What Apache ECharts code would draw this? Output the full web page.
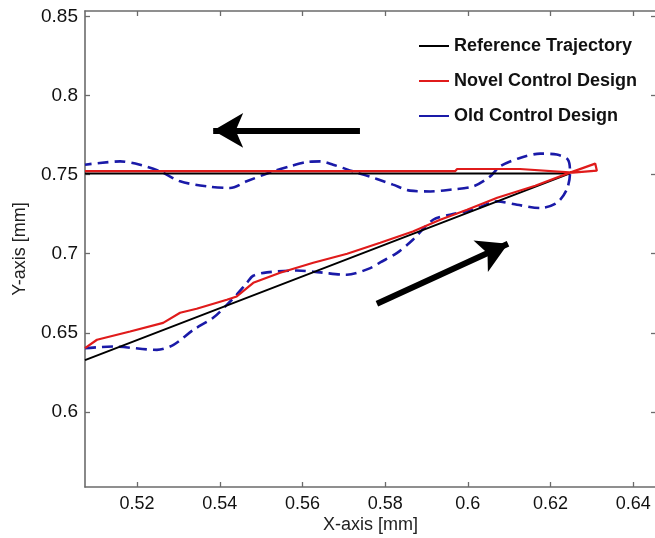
<!DOCTYPE html>
<html>
<head>
<meta charset="utf-8">
<script src="https://cdn.jsdelivr.net/npm/echarts@6/dist/echarts.min.js"></script>
<style>html,body{margin:0;padding:0;background:#fff}#c{width:655px;height:538px}</style>
</head>
<body>
<div id="c"></div>
<script>
const xTicks = [0.52, 0.54, 0.56, 0.58, 0.6, 0.62, 0.64];
const yTicks = [0.6, 0.65, 0.7, 0.75, 0.8, 0.85];

const seriesNames = ['Reference Trajectory', 'Novel Control Design', 'Old Control Design'];

const referenceTraj = [
  [0.5074, 0.6327], [0.6247, 0.7508], [0.5074, 0.7508]
];

const novelDesign = [
  [0.5074, 0.6403], [0.5103, 0.6456], [0.5183, 0.6508], [0.5263, 0.6563], [0.5304, 0.6627],
  [0.5344, 0.6652], [0.5417, 0.6709], [0.5441, 0.6730], [0.5481, 0.6816], [0.5546, 0.6880],
  [0.5626, 0.6943], [0.5708, 0.7000], [0.5788, 0.7070], [0.5867, 0.7141], [0.5933, 0.7215],
  [0.5998, 0.7278], [0.6071, 0.7354], [0.6163, 0.7430], [0.6247, 0.7513], [0.6308, 0.7570],
  [0.6312, 0.7525], [0.6254, 0.7513], [0.6126, 0.7536], [0.5974, 0.7536], [0.5969, 0.7522],
  [0.5074, 0.7522]
];

const oldDesign = [
  [0.5074, 0.6403], [0.5142, 0.6413], [0.5248, 0.6392], [0.5288, 0.6424], [0.5336, 0.6519],
  [0.5384, 0.6595], [0.5417, 0.6677], [0.5441, 0.6741], [0.5465, 0.6815], [0.5481, 0.6861],
  [0.5514, 0.6882], [0.5586, 0.6894], [0.5643, 0.6882], [0.5707, 0.6867], [0.5764, 0.6909],
  [0.5788, 0.6945], [0.5828, 0.7004], [0.5867, 0.7089], [0.5916, 0.7215], [0.5957, 0.7247],
  [0.6013, 0.7278], [0.6071, 0.7331], [0.6119, 0.7310], [0.6175, 0.7289], [0.6215, 0.7321],
  [0.6239, 0.7405], [0.6247, 0.7511], [0.6242, 0.7595], [0.6215, 0.7627], [0.6175, 0.7633],
  [0.6126, 0.7606], [0.6078, 0.7553], [0.6054, 0.7489], [0.6013, 0.7426], [0.5957, 0.7405],
  [0.5909, 0.7394], [0.5860, 0.7399], [0.5819, 0.7437], [0.5780, 0.7473], [0.5722, 0.7521],
  [0.5674, 0.7563], [0.5643, 0.7584], [0.5610, 0.7580], [0.5570, 0.7553], [0.5529, 0.7521],
  [0.5465, 0.7458], [0.5425, 0.7416], [0.5369, 0.7426], [0.5304, 0.7458], [0.5256, 0.7521],
  [0.5207, 0.7563], [0.5159, 0.7584], [0.5110, 0.7574], [0.5074, 0.7563]
];

// direction arrows: [tail, head]
const arrowLeft = [[0.5739, 0.7780], [0.5384, 0.7780]];
const arrowUp = [[0.5780, 0.6684], [0.6097, 0.7063]];

const X_MIN = 0.5074, X_MAX = 0.6455, Y_MIN = 0.5525, Y_MAX = 0.8535;
const font = 'Arial, "Liberation Sans", sans-serif';
const axisCol = '#6b6b6b';

const chart = echarts.init(document.getElementById('c'), null, {renderer: 'canvas'});

function xAx(pos, showLabel) {
  return {
    type: 'value', position: pos, min: X_MIN, max: X_MAX,
    name: showLabel ? 'X-axis [mm]' : '', nameLocation: 'middle', nameGap: 29, nameMoveOverlap: false,
    nameTextStyle: {fontFamily: font, fontSize: 18, color: '#222'},
    axisLine: {show: true, onZero: false, lineStyle: {color: axisCol, width: 1.6}},
    axisTick: {show: true, inside: true, length: 5, customValues: xTicks, lineStyle: {color: axisCol, width: 1.3}},
    axisLabel: {show: showLabel, customValues: xTicks, fontFamily: font, fontSize: 18, color: '#111', margin: 8},
    splitLine: {show: false}
  };
}
function yAx(pos, showLabel) {
  return {
    type: 'value', position: pos, min: Y_MIN, max: Y_MAX,
    name: showLabel ? 'Y-axis [mm]' : '', nameLocation: 'middle', nameGap: 56, nameRotate: 90, nameMoveOverlap: false,
    nameTextStyle: {fontFamily: font, fontSize: 18, color: '#222'},
    axisLine: {show: true, onZero: false, lineStyle: {color: axisCol, width: 1.6}},
    axisTick: {show: true, inside: true, length: 5, customValues: yTicks, lineStyle: {color: axisCol, width: 1.3}},
    axisLabel: {show: showLabel, customValues: yTicks, fontFamily: font, fontSize: 19, color: '#111', margin: 7},
    splitLine: {show: false}
  };
}

chart.setOption({
  animation: false,
  backgroundColor: '#fff',
  grid: {left: 85, top: 11, right: -1, bottom: 51, containLabel: false, outerBoundsMode: 'none'},
  xAxis: [xAx('bottom', true), xAx('top', false)],
  yAxis: [yAx('left', true), yAx('right', false)],
  legend: {
    data: seriesNames, orient: 'vertical', left: 414, top: 32,
    itemWidth: 30, itemHeight: 14, itemGap: 17,
    textStyle: {fontFamily: font, fontSize: 18, fontWeight: 'bold', color: '#111'},
    icon: 'path://M0,6 L30,6 L30,8 L0,8 Z'
  },
  series: [
    {name: seriesNames[0], type: 'line', data: referenceTraj, showSymbol: false, z: 3,
     itemStyle: {color: '#000'}, lineStyle: {color: '#000', width: 2}},
    {name: seriesNames[1], type: 'line', data: novelDesign, showSymbol: false, z: 4,
     itemStyle: {color: '#e01b1b'}, lineStyle: {color: '#e01b1b', width: 2.2}},
    {name: seriesNames[2], type: 'line', data: oldDesign, showSymbol: false, z: 2, smooth: 0.3,
     itemStyle: {color: '#1a1aa8'}, lineStyle: {color: '#1a1aa8', width: 2.6, type: [11, 6]}},
    {name: 'arrows', type: 'line', data: [], silent: true,
     markLine: {
       silent: true, symbol: ['none', 'arrow'], symbolSize: [26, 30],
       label: {show: false},
       lineStyle: {color: '#000', width: 6, type: 'solid'},
       emphasis: {disabled: true},
       data: [
         [{coord: arrowLeft[0]}, {coord: arrowLeft[1]}],
         [{coord: arrowUp[0]}, {coord: arrowUp[1]}]
       ]
     }}
  ]
});
</script>
</body>
</html>
